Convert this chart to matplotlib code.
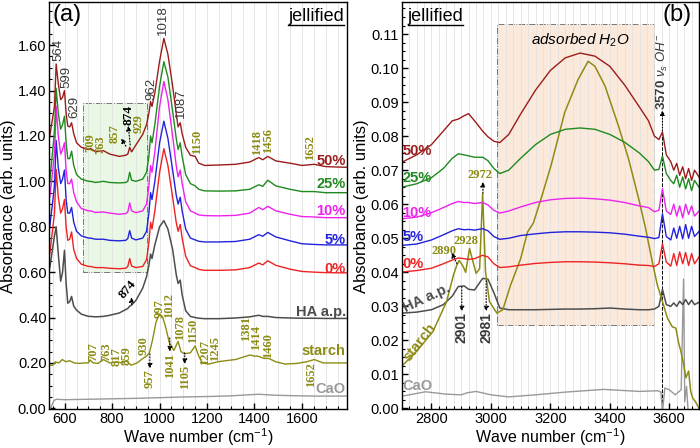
import matplotlib
matplotlib.use("Agg")
import matplotlib.pyplot as plt
from matplotlib.lines import Line2D
from matplotlib.patches import Rectangle
from matplotlib.ticker import MultipleLocator, FormatStrFormatter

plt.rcParams["font.family"] = ["Liberation Sans", "DejaVu Sans"]
plt.rcParams["mathtext.fontset"] = "custom"
plt.rcParams["mathtext.it"] = "Liberation Sans:italic"
plt.rcParams["mathtext.rm"] = "Liberation Sans"

# ---------------- panel (a): mid-IR, 535-1790 cm-1 ----------------
wn_a = [537, 557, 564, 573, 583, 591, 599, 606, 613, 621, 629, 638, 650, 670, 700, 709, 730, 763, 790,
        830, 857, 866, 874, 882, 900, 929, 945, 955, 962, 968, 980, 1000, 1018, 1035, 1055, 1070, 1078,
        1087, 1095, 1110, 1130, 1150, 1165, 1190, 1250, 1320, 1380, 1418, 1435, 1456, 1490, 1550, 1600,
        1652, 1700, 1750, 1790]
a_50 = [1.20, 1.33, 1.517, 1.43, 1.36, 1.37, 1.40, 1.30, 1.243, 1.24, 1.258, 1.21, 1.17, 1.15, 1.14, 1.145,
        1.13, 1.135, 1.12, 1.11, 1.115, 1.12, 1.15, 1.13, 1.16, 1.207, 1.25, 1.30, 1.352, 1.33, 1.39, 1.53,
        1.63, 1.56, 1.42, 1.30, 1.24, 1.258, 1.21, 1.15, 1.115, 1.11, 1.08, 1.07, 1.072, 1.075, 1.085, 1.105,
        1.095, 1.11, 1.09, 1.08, 1.07, 1.075, 1.065, 1.063, 1.062]
a_25 = [1.00, 1.22, 1.41, 1.30, 1.23, 1.25, 1.287, 1.17, 1.10, 1.10, 1.133, 1.07, 1.03, 1.01, 1.0, 1.0,
        0.995, 1.0, 0.995, 0.993, 0.995, 1.0, 1.04, 1.005, 1.0, 1.01, 1.04, 1.11, 1.20, 1.17, 1.25, 1.42,
        1.527, 1.46, 1.31, 1.19, 1.14, 1.17, 1.11, 1.03, 0.99, 0.98, 0.965, 0.958, 0.957, 0.958, 0.965, 0.985,
        0.978, 1.005, 0.98, 0.965, 0.955, 0.955, 0.95, 0.95, 0.95]
a_10 = [0.93, 1.12, 1.33, 1.20, 1.12, 1.14, 1.17, 1.05, 0.99, 0.99, 1.01, 0.95, 0.91, 0.88, 0.87, 0.87,
        0.863, 0.865, 0.86, 0.855, 0.858, 0.865, 0.905, 0.87, 0.862, 0.87, 0.90, 0.98, 1.07, 1.04, 1.13, 1.33,
        1.44, 1.36, 1.20, 1.07, 1.02, 1.05, 0.99, 0.91, 0.87, 0.86, 0.852, 0.849, 0.848, 0.85, 0.86, 0.885,
        0.875, 0.89, 0.87, 0.855, 0.845, 0.843, 0.84, 0.84, 0.84]
a_05 = [0.80, 0.98, 1.18, 1.06, 0.99, 1.01, 1.05, 0.92, 0.86, 0.86, 0.885, 0.82, 0.78, 0.76, 0.75, 0.75,
        0.745, 0.745, 0.74, 0.738, 0.74, 0.748, 0.783, 0.75, 0.742, 0.75, 0.78, 0.86, 0.95, 0.92, 1.00, 1.17,
        1.265, 1.19, 1.05, 0.94, 0.90, 0.93, 0.87, 0.79, 0.75, 0.742, 0.736, 0.733, 0.733, 0.735, 0.745, 0.765,
        0.758, 0.775, 0.755, 0.738, 0.725, 0.722, 0.72, 0.72, 0.72]
a_00 = [0.68, 0.86, 1.053, 0.93, 0.86, 0.88, 0.92, 0.80, 0.74, 0.745, 0.777, 0.70, 0.66, 0.635, 0.625, 0.625,
        0.62, 0.62, 0.617, 0.615, 0.617, 0.625, 0.66, 0.627, 0.62, 0.625, 0.655, 0.73, 0.82, 0.79, 0.87, 1.04,
        1.144, 1.07, 0.93, 0.82, 0.78, 0.81, 0.75, 0.67, 0.628, 0.62, 0.612, 0.608, 0.608, 0.61, 0.62, 0.64,
        0.632, 0.65, 0.63, 0.613, 0.603, 0.6, 0.598, 0.597, 0.597]
a_ha = [0.62, 0.76, 0.80, 0.68, 0.56, 0.60, 0.696, 0.55, 0.463, 0.47, 0.493, 0.45, 0.433, 0.415, 0.405, 0.405,
        0.403, 0.405, 0.41, 0.42, 0.435, 0.44, 0.45, 0.455, 0.475, 0.53, 0.58, 0.63, 0.68, 0.66, 0.72, 0.80,
        0.827, 0.79, 0.70, 0.59, 0.55, 0.565, 0.50, 0.43, 0.405, 0.40, 0.397, 0.395, 0.395, 0.398, 0.403, 0.41,
        0.405, 0.405, 0.40, 0.398, 0.397, 0.397, 0.396, 0.396, 0.396]

wn_starch_a = [537, 550, 560, 575, 590, 605, 620, 640, 660, 680, 700, 707, 720, 740, 763, 790, 817, 840, 859,
               880, 905, 930, 945, 957, 970, 985, 997, 1012, 1025, 1041, 1060, 1078, 1090, 1105, 1130, 1150,
               1165, 1180, 1207, 1245, 1280, 1320, 1350, 1381, 1400, 1414, 1440, 1460, 1490, 1530, 1580, 1620,
               1652, 1690, 1750, 1790]
starch_a = [0.19, 0.19, 0.205, 0.2, 0.215, 0.205, 0.21, 0.2, 0.198, 0.2, 0.2, 0.213, 0.2, 0.198, 0.215, 0.2,
            0.205, 0.2, 0.21, 0.19, 0.2, 0.22, 0.23, 0.245, 0.3, 0.38, 0.41, 0.405, 0.36, 0.29, 0.255, 0.295,
            0.25, 0.24, 0.245, 0.275, 0.23, 0.2, 0.195, 0.205, 0.21, 0.215, 0.225, 0.235, 0.23, 0.23, 0.22, 0.22,
            0.205, 0.195, 0.198, 0.205, 0.215, 0.2, 0.2, 0.2]

wn_cao_a = [540, 555, 565, 600, 700, 800, 900, 1000, 1100, 1200, 1300, 1380, 1420, 1480, 1550, 1650, 1750, 1790]
cao_a = [0.0, 0.035, 0.04, 0.038, 0.04, 0.042, 0.044, 0.047, 0.05, 0.052, 0.055, 0.06, 0.062, 0.058, 0.056,
         0.054, 0.054, 0.054]

# ---------------- panel (b): 2700-3700 cm-1 ----------------
wn_b = [2700, 2750, 2800, 2840, 2870, 2890, 2910, 2925, 2945, 2972, 2990, 3010, 3030, 3060, 3100, 3150, 3200,
        3250, 3300, 3350, 3400, 3450, 3500, 3530, 3550, 3565, 3577, 3590, 3605, 3615, 3625, 3635, 3645, 3655,
        3665, 3675, 3685, 3700]
b_50 = [0.0723, 0.0745, 0.0775, 0.0815, 0.0845, 0.085, 0.086, 0.0866, 0.0845, 0.0815, 0.0798, 0.0785, 0.0781,
        0.0805, 0.0865, 0.0935, 0.0993, 0.1030, 0.1044, 0.1035, 0.1005, 0.0950, 0.0885, 0.0845, 0.0800, 0.0790,
        0.0812, 0.0745, 0.0725, 0.0700, 0.0720, 0.0685, 0.0710, 0.0675, 0.0705, 0.0670, 0.0700, 0.0680]
b_25 = [0.0650, 0.0660, 0.0678, 0.0705, 0.0735, 0.0748, 0.0745, 0.0742, 0.0738, 0.0738, 0.0728, 0.0705, 0.0690,
        0.0700, 0.0735, 0.0775, 0.0805, 0.0820, 0.0824, 0.0820, 0.0805, 0.0782, 0.0750, 0.0725, 0.0700, 0.0702,
        0.0742, 0.0690, 0.0670, 0.0660, 0.0685, 0.0650, 0.0680, 0.0645, 0.0675, 0.0640, 0.0670, 0.0650]
b_10 = [0.0557, 0.0562, 0.0575, 0.0590, 0.0602, 0.0608, 0.0605, 0.0605, 0.0602, 0.0605, 0.0598, 0.0582, 0.0574,
        0.0580, 0.0592, 0.0605, 0.0613, 0.0617, 0.0618, 0.0616, 0.0612, 0.0605, 0.0595, 0.0590, 0.0578, 0.0582,
        0.0645, 0.0580, 0.0570, 0.0600, 0.0565, 0.0595, 0.0560, 0.0600, 0.0570, 0.0595, 0.0565, 0.0580]
b_05 = [0.0479, 0.0483, 0.0495, 0.0510, 0.0522, 0.0528, 0.0525, 0.0526, 0.0524, 0.0528, 0.0522, 0.0505, 0.0497,
        0.0500, 0.0508, 0.0513, 0.0517, 0.0519, 0.0519, 0.0518, 0.0516, 0.0512, 0.0506, 0.0503, 0.0499, 0.0502,
        0.0572, 0.0505, 0.0495, 0.0530, 0.0500, 0.0535, 0.0498, 0.0540, 0.0500, 0.0535, 0.0505, 0.0520]
b_00 = [0.0401, 0.0405, 0.0412, 0.0425, 0.0436, 0.0442, 0.0440, 0.0438, 0.0440, 0.0450, 0.0445, 0.0425, 0.0414,
        0.0416, 0.0421, 0.0426, 0.0429, 0.0431, 0.0431, 0.0430, 0.0428, 0.0425, 0.0421, 0.0420, 0.0417, 0.0425,
        0.0484, 0.0430, 0.0418, 0.0455, 0.0420, 0.0460, 0.0425, 0.0458, 0.0420, 0.0455, 0.0425, 0.0445]
b_ha = [0.0280, 0.0283, 0.0290, 0.0305, 0.0330, 0.0358, 0.0360, 0.0350, 0.0348, 0.0382, 0.0380, 0.0340, 0.0295,
        0.0290, 0.0290, 0.0290, 0.0291, 0.0292, 0.0292, 0.0293, 0.0295, 0.0292, 0.0290, 0.0290, 0.0292, 0.0300,
        0.0350, 0.0305, 0.0300, 0.0310, 0.0300, 0.0315, 0.0305, 0.0320, 0.0305, 0.0318, 0.0305, 0.0312]

wn_starch_b = [2700, 2750, 2805, 2851, 2874, 2885, 2893, 2905, 2915, 2928, 2940, 2950, 2962, 2972, 2982, 2995,
               3020, 3040, 3066, 3100, 3123, 3143, 3170, 3202, 3248, 3293, 3327, 3350, 3384, 3429, 3463, 3497,
               3520, 3543, 3560, 3577, 3594, 3610, 3622, 3632, 3639, 3648, 3656, 3665, 3672, 3679, 3688, 3700]
starch_b = [0.0124, 0.0168, 0.0226, 0.0314, 0.0392, 0.042, 0.0435, 0.042, 0.040, 0.047, 0.043, 0.0397, 0.041,
            0.063, 0.040, 0.0314, 0.028, 0.029, 0.0362, 0.044, 0.0518, 0.0545, 0.062, 0.0713, 0.0869, 0.0966,
            0.102, 0.1005, 0.0947, 0.083, 0.0733, 0.0616, 0.053, 0.043, 0.0362, 0.0314, 0.0265, 0.024, 0.0236,
            0.019, 0.0168, 0.013, 0.009, 0.011, 0.005, 0.003, 0.002, 0.0]

wn_cao_b = [2700, 2780, 2850, 2900, 2920, 2950, 3000, 3060, 3150, 3250, 3380, 3500, 3560, 3572, 3577, 3585,
            3600, 3620, 3640, 3648, 3652, 3658, 3665]
cao_b = [0.0036, 0.0049, 0.0042, 0.0040, 0.0046, 0.0050, 0.0040, 0.0034, 0.0040, 0.0048, 0.0056, 0.0050,
         0.0052, 0.0048, -0.001, 0.006, 0.0055, 0.0040, 0.0055, 0.038, 0.002, 0.0065, -0.003]

c50, c25, c10, c05, c00 = "#9b1c1c", "#1f8a1f", "#ee22ee", "#2222dd", "#ee2222"
cha, cst, ccao = "#4d4d4d", "#8c8c14", "#999999"
olive = "#8c8c14"

fig = plt.figure(figsize=(7.0, 4.48), dpi=100)
axa = fig.add_axes([0.0704, 0.086, 0.4253, 0.9095])
axb = fig.add_axes([0.5739, 0.086, 0.4247, 0.9095])

serif_fam = ["Liberation Serif", "DejaVu Serif"]
serif = dict(family=serif_fam, weight="bold", color=olive, fontsize=9)
arrow = dict(arrowstyle="-|>", linestyle=":", lw=0.8, color="k", mutation_scale=7, shrinkA=0, shrinkB=0)


def style_axis(ax, xmaj, xmin, ymaj, ymin):
    ax.xaxis.set_major_locator(MultipleLocator(xmaj))
    ax.xaxis.set_minor_locator(MultipleLocator(xmin))
    ax.yaxis.set_major_locator(MultipleLocator(ymaj))
    ax.yaxis.set_minor_locator(MultipleLocator(ymin))
    ax.yaxis.set_major_formatter(FormatStrFormatter("%.2f"))
    ax.tick_params(which="both", direction="in", top=False, right=False, labelsize=10.5, pad=2)
    ax.tick_params(which="major", length=4, width=1)
    ax.tick_params(which="minor", length=2, width=0.8)
    ax.grid(True, which="both", axis="x", color="#e2e2e2", lw=0.6)
    ax.set_axisbelow(True)
    ax.set_xlabel("Wave number (cm$^{-1}$)", fontsize=11.5, labelpad=0)
    ax.set_ylabel("Absorbance (arb. units)", fontsize=12, labelpad=1)
    for s in ax.spines.values():
        s.set_linewidth(1.0)


# ---- panel (a)
axa.add_patch(Rectangle((678, 0.60), 949 - 678, 1.345 - 0.60, facecolor="#e9f8e4", edgecolor="#777777",
                        ls="-.", lw=0.7, zorder=0.5))
axa.plot(wn_cao_a, cao_a, color=ccao, lw=1)
axa.plot(wn_starch_a, starch_a, color=cst, lw=1)
axa.plot(wn_a, a_ha, color=cha, lw=1.1)
axa.plot(wn_a, a_00, color=c00, lw=1)
axa.plot(wn_a, a_05, color=c05, lw=1)
axa.plot(wn_a, a_10, color=c10, lw=1)
axa.plot(wn_a, a_25, color=c25, lw=1)
axa.plot(wn_a, a_50, color=c50, lw=1)
axa.set_xlim(535, 1790)
axa.set_ylim(-0.005, 1.79)
style_axis(axa, 200, 50, 0.2, 0.05)

lab = dict(fontsize=10.5, weight="bold", ha="right", va="center")
axa.text(1785, 1.09, "50%", color=c50, **lab)
axa.text(1785, 0.988, "25%", color=c25, **lab)
axa.text(1785, 0.871, "10%", color=c10, **lab)
axa.text(1785, 0.74, "5%", color=c05, **lab)
axa.text(1785, 0.616, "0%", color=c00, **lab)
axa.text(1785, 0.426, "HA a.p.", color=cha, **lab)
axa.text(1785, 0.251, "starch", color=cst, **lab)
axa.text(1785, 0.083, "CaO", color=ccao, **lab)

gray = dict(fontsize=9.5, color="#3a3a3a", rotation=90, ha="center", va="bottom")
for x, y, s in [(573, 1.53, "564"), (608, 1.41, "599"), (639, 1.28, "629"), (966, 1.36, "962"),
                (1015, 1.645, "1018"), (1092, 1.28, "1087")]:
    axa.text(x, y, s, **gray)

for x, y, s in [(707, 1.13, "709"), (748, 1.122, "763"), (812, 1.17, "857"), (912, 1.215, "929"),
                (1156, 1.12, "1150"), (1410, 1.118, "1418"), (1458, 1.125, "1456"), (1633, 1.096, "1652"),
                (720, 0.209, "707"), (777, 0.209, "763"), (819, 0.186, "817"), (863, 0.19, "859"),
                (934, 0.236, "930"), (1000, 0.40, "997"), (1040, 0.40, "1012"), (1085, 0.302, "1078"),
                (1141, 0.288, "1150"), (1191, 0.193, "1207"), (1233, 0.207, "1245"), (1366, 0.295, "1381"),
                (1408, 0.258, "1414"), (1457, 0.222, "1460")]:
    axa.text(x, y, s, rotation=90, ha="center", va="bottom", **serif)
for x, y, s in [(959, 0.17, "957"), (1043, 0.245, "1041"), (1106, 0.19, "1105"), (1640, 0.205, "1652")]:
    axa.text(x, y, s, rotation=90, ha="center", va="top", **serif)

axa.text(868, 1.25, "874", rotation=90, ha="center", va="bottom", fontsize=9.5, weight="bold", color="k",
         family=serif_fam)
axa.annotate("", xy=(868, 1.245), xytext=(876, 1.16), arrowprops=arrow)
axa.annotate("", xy=(838, 1.19), xytext=(858, 1.155), arrowprops=arrow)
axa.text(866, 0.525, "874", rotation=50, ha="center", va="center", fontsize=9.5, weight="bold", color="k",
         family=serif_fam)
axa.annotate("", xy=(882, 0.49), xytext=(882, 0.458), arrowprops=arrow)
axa.annotate("", xy=(959, 0.175), xytext=(959, 0.24), arrowprops=arrow)
axa.annotate("", xy=(1043, 0.25), xytext=(1043, 0.31), arrowprops=arrow)
axa.annotate("", xy=(1106, 0.195), xytext=(1106, 0.245), arrowprops=arrow)

axa.text(0.012, 0.995, "(a)", transform=axa.transAxes, fontsize=17, ha="left", va="top")
ja = axa.text(0.99, 0.985, "jellified", transform=axa.transAxes, fontsize=13, ha="right", va="top")

# ---- panel (b)
axb.add_patch(Rectangle((3021, 0.0245), 3548 - 3021, 0.113 - 0.0245, facecolor="#fbeadc", edgecolor="#777777",
                        ls="-.", lw=0.7, zorder=0.5))
axb.plot([3577, 3577], [0, 0.0812], color="k", ls="--", lw=0.7, zorder=1)
axb.plot(wn_cao_b, cao_b, color=ccao, lw=1)
axb.plot(wn_b, b_ha, color=cha, lw=1.1)
axb.plot(wn_starch_b, starch_b, color=cst, lw=1.1)
axb.plot(wn_b, b_00, color=c00, lw=1)
axb.plot(wn_b, b_05, color=c05, lw=1)
axb.plot(wn_b, b_10, color=c10, lw=1)
axb.plot(wn_b, b_25, color=c25, lw=1)
axb.plot(wn_b, b_50, color=c50, lw=1)
axb.set_xlim(2700, 3700)
axb.set_ylim(-0.0003, 0.1194)
style_axis(axb, 200, 25, 0.01, 0.0025)

labl = dict(fontsize=10.5, weight="bold", ha="left", va="center")
axb.text(2703, 0.0757, "50%", color=c50, **labl)
axb.text(2703, 0.0677, "25%", color=c25, **labl)
axb.text(2703, 0.0574, "10%", color=c10, **labl)
axb.text(2703, 0.0504, "5%", color=c05, **labl)
axb.text(2703, 0.0424, "0%", color=c00, **labl)
axb.text(2703, 0.0066, "CaO", color=ccao, **labl)
axb.text(2785, 0.0325, "HA a.p.", color=cha, fontsize=10.5, weight="bold", rotation=25, ha="center",
         va="center")
axb.text(2762, 0.0195, "starch", color=cst, fontsize=10.5, weight="bold", rotation=52, ha="center",
         va="center")

axb.text(2962, 0.0686, "2972", ha="center", va="center", **serif)
axb.annotate("", xy=(2973, 0.0666), xytext=(2973, 0.0632), arrowprops=arrow)
axb.text(2916, 0.0492, "2928", ha="center", va="center", **serif)
axb.text(2842, 0.0462, "2890", ha="center", va="center", **serif)
axb.annotate("", xy=(2868, 0.0458), xytext=(2886, 0.0425), arrowprops=arrow)

grayb = dict(fontsize=10, color="#3a3a3a", weight="bold", rotation=90, ha="center", va="top")
axb.text(2902, 0.0282, "2901", **grayb)
axb.text(2984, 0.0282, "2981", **grayb)
axb.annotate("", xy=(2902, 0.0285), xytext=(2902, 0.0357), arrowprops=arrow)
axb.annotate("", xy=(2984, 0.0285), xytext=(2984, 0.0375), arrowprops=arrow)

axb.text(3577, 0.0878, r"3570 $\nu_s\ OH^{-}$", fontsize=9.5, color="#3a3a3a", weight="bold", rotation=90,
         ha="center", va="bottom")
axb.annotate("", xy=(3577, 0.0876), xytext=(3577, 0.0815), arrowprops=arrow)
axb.text(3300, 0.1083, r"adsorbed $H_2O$", fontsize=11, style="italic", ha="center", va="center")

axb.text(0.975, 0.995, "(b)", transform=axb.transAxes, fontsize=17, ha="right", va="top")
jb = axb.text(0.02, 0.985, "jellified", transform=axb.transAxes, fontsize=13, ha="left", va="top")

# underline the "jellified" tags
fig.canvas.draw()
inv = fig.transFigure.inverted()
for t in (ja, jb):
    bb = t.get_window_extent()
    (x0, y0), (x1, _) = inv.transform([(bb.x0, bb.y0), (bb.x1, bb.y0)])
    fig.add_artist(Line2D([x0, x1], [y0, y0], transform=fig.transFigure, color="k", lw=1))

fig.savefig("out.png", dpi=100)
